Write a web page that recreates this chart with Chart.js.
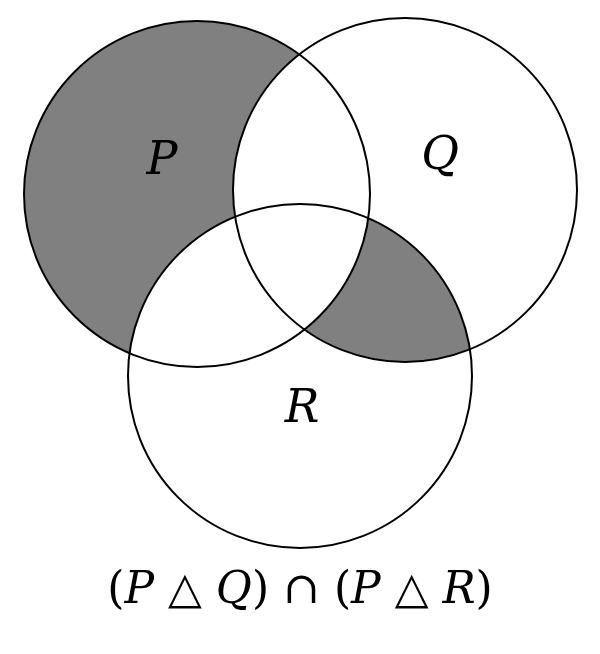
<!DOCTYPE html>
<html>
<head>
<meta charset="utf-8">
<script src="https://cdn.jsdelivr.net/npm/chart.js@4"></script>
<style>
  html, body { margin: 0; padding: 0; background: #fff; }
</style>
</head>
<body>
<canvas id="venn" width="600" height="654"></canvas>
<script>
// circle sets: name, center x, center y, radius (chart units = pixels of the 600x654 frame)
const setNames = ['P', 'Q', 'R'];
const centerX = [197, 405, 300];
const centerY = [194, 190, 376];
const radius = [173, 172, 172];
const labelX = [162, 440, 302];
const labelY = [162, 157, 410];
const caption = [['(', false], ['P', true], [' \u25B3 ', false], ['Q', true], [')', false],
  [' \u2229 ', false], ['(', false], ['P', true], [' \u25B3 ', false], ['R', true], [')', false]];

const shade = '#808080';

const vennPlugin = {
  id: 'venn',
  afterDatasetsDraw(chart) {
    const ctx = chart.ctx;
    const xs = chart.scales.x, ys = chart.scales.y;
    const circ = setNames.map((n, i) => ({
      x: xs.getPixelForValue(centerX[i]),
      y: ys.getPixelForValue(centerY[i]),
      r: Math.abs(xs.getPixelForValue(centerX[i] + radius[i]) - xs.getPixelForValue(centerX[i]))
    }));
    const path = (c) => { ctx.beginPath(); ctx.arc(c.x, c.y, c.r, 0, Math.PI * 2); };
    const [P, Q, R] = circ;

    // Q ∩ R shaded
    ctx.save();
    path(Q); ctx.clip(); path(R); ctx.clip();
    ctx.fillStyle = shade; ctx.fillRect(0, 0, chart.width, chart.height);
    ctx.restore();

    // P only shaded (P ∩ Q and P ∩ R white)
    ctx.save();
    path(P); ctx.clip();
    ctx.fillStyle = shade; ctx.fillRect(0, 0, chart.width, chart.height);
    ctx.fillStyle = '#fff';
    path(Q); ctx.fill(); path(R); ctx.fill();
    ctx.restore();

    ctx.save();
    ctx.strokeStyle = '#000'; ctx.lineWidth = 2;
    circ.forEach(c => { path(c); ctx.stroke(); });

    ctx.fillStyle = '#000';
    ctx.textAlign = 'center'; ctx.textBaseline = 'middle';
    ctx.font = 'italic 46px "DejaVu Serif", serif';
    setNames.forEach((n, i) => {
      ctx.fillText(n, xs.getPixelForValue(labelX[i]), ys.getPixelForValue(labelY[i]));
    });

    // caption
    const fontFor = (it) => (it ? 'italic ' : '') + '44px "DejaVu Serif", serif';
    let total = 0;
    caption.forEach(([t, it]) => { ctx.font = fontFor(it); total += ctx.measureText(t).width; });
    let cx = xs.getPixelForValue(300) - total / 2;
    const cy = ys.getPixelForValue(592);
    ctx.textAlign = 'left';
    caption.forEach(([t, it]) => {
      ctx.font = fontFor(it);
      ctx.fillText(t, cx, cy);
      cx += ctx.measureText(t).width;
    });
    ctx.restore();
  }
};

new Chart(document.getElementById('venn'), {
  type: 'scatter',
  data: { datasets: [{ data: setNames.map((n, i) => ({ x: centerX[i], y: centerY[i] })), pointRadius: 0 }] },
  options: {
    responsive: false,
    animation: false,
    layout: { padding: 0 },
    plugins: { legend: { display: false }, tooltip: { enabled: false } },
    scales: {
      x: { type: 'linear', min: 0, max: 600, display: false },
      y: { type: 'linear', min: 0, max: 654, reverse: true, display: false }
    }
  },
  plugins: [vennPlugin]
});
</script>
</body>
</html>
